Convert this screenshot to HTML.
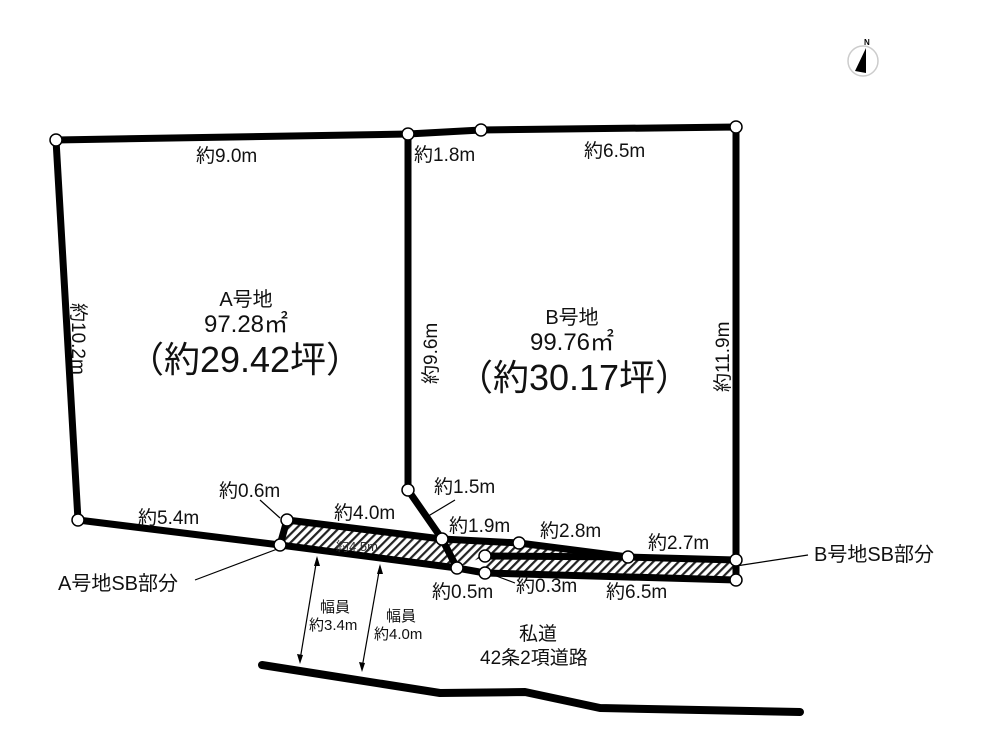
<!DOCTYPE html>
<html><head><meta charset="utf-8"><style>
html,body{margin:0;padding:0;background:#fff;}
svg{display:block;font-family:"Liberation Sans","Noto Sans CJK JP",sans-serif;}
</style></head><body>
<svg width="1000" height="750" viewBox="0 0 1000 750" xmlns="http://www.w3.org/2000/svg">
<defs>
<pattern id="h" width="6" height="6" patternUnits="userSpaceOnUse" patternTransform="rotate(45)">
<rect width="6" height="6" fill="#fff"/><rect width="2.2" height="6" fill="#222"/>
</pattern>
</defs>
<polygon points="287,520 442,539 457,568 280,545" fill="url(#h)"/>
<polygon points="442,539 519,543 628,557 736,560 736,580 485,573 485,556 457,568" fill="url(#h)"/>
<g stroke="#000" stroke-width="7" fill="none" stroke-linejoin="round" stroke-linecap="round">
<polyline points="56,140 408,134 481,130 736,127 736,560"/>
<polyline points="56,140 78,520 280,545"/>
<polyline points="408,134 408,490 442,539 457,568"/>
<polyline points="287,520 442,539 519,543 628,557 736,560"/>
<polyline points="287,520 280,545 457,568 485,573 736,580 736,560"/>
<polyline points="485,556 628,557"/>
<polyline points="262,665 440,693 525,692 600,708 800,712" stroke-width="8"/>
</g>
<g stroke="#000" stroke-width="1.2" fill="none">
<line x1="280" y1="518" x2="260" y2="500"/>
<line x1="425" y1="518" x2="455" y2="500"/>
<line x1="491" y1="574" x2="515" y2="583"/>
<line x1="280" y1="548" x2="195" y2="580"/>
<line x1="736" y1="566" x2="808" y2="555"/>
<line x1="300" y1="660" x2="317" y2="558"/>
<line x1="362" y1="668" x2="380" y2="566"/>
</g>
<g fill="#000">
<polygon points="317,556 314,566 320,566"/>
<polygon points="300,664 297,654 303,655"/>
<polygon points="380,564 377,574 383,574"/>
<polygon points="362,672 359,662 365,663"/>
</g>
<g fill="#fff" stroke="#000" stroke-width="1.5">
<circle cx="56" cy="140" r="6"/><circle cx="408" cy="134" r="6"/><circle cx="481" cy="130" r="6"/><circle cx="736" cy="127" r="6"/>
<circle cx="408" cy="490" r="6"/><circle cx="78" cy="520" r="6"/><circle cx="287" cy="520" r="6"/><circle cx="280" cy="545" r="6"/>
<circle cx="442" cy="539" r="6"/><circle cx="519" cy="543" r="6"/><circle cx="628" cy="557" r="6"/><circle cx="736" cy="560" r="6"/>
<circle cx="736" cy="580" r="6"/><circle cx="457" cy="568" r="6"/><circle cx="485" cy="573" r="6"/><circle cx="485" cy="556" r="6"/>
</g>
<circle cx="863" cy="61" r="15" fill="none" stroke="#ccc" stroke-width="1.5"/>
<polygon points="866,48 855,71 866,73" fill="#000"/>
<text x="864" y="45" font-size="8" font-weight="bold">N</text>
<g font-size="19" fill="#111">
<text x="196" y="162">約9.0m</text>
<text x="414" y="161">約1.8m</text>
<text x="584" y="157">約6.5m</text>
<text x="138" y="524">約5.4m</text>
<text x="219" y="497">約0.6m</text>
<text x="334" y="519">約4.0m</text>
<text x="434" y="493">約1.5m</text>
<text x="449" y="532">約1.9m</text>
<text x="540" y="537">約2.8m</text>
<text x="648" y="549">約2.7m</text>
<text x="432" y="598">約0.5m</text>
<text x="516" y="592">約0.3m</text>
<text x="606" y="598">約6.5m</text>
<text x="72" y="303" transform="rotate(90 72 303)">約10.2m</text>
<text x="437" y="384" transform="rotate(-90 437 384)">約9.6m</text>
<text x="729" y="392" transform="rotate(-90 729 392)">約11.9m</text>
<text x="519" y="640">私道</text>
<text x="480" y="664">42条2項道路</text>
</g>
<g font-size="20" fill="#111">
<text x="58" y="590">A号地SB部分</text>
<text x="814" y="561">B号地SB部分</text>
</g>
<g font-size="15" fill="#111">
<text x="320" y="612">幅員</text>
<text x="309" y="630">約3.4m</text>
<text x="386" y="621">幅員</text>
<text x="374" y="639">約4.0m</text>
<text x="336" y="551" font-size="13" fill="#333">約4.5m</text>
</g>
<g fill="#111" text-anchor="middle">
<text x="246" y="306" font-size="20">A号地</text>
<text x="246" y="332" font-size="24">97.28㎡</text>
<text x="245" y="372" font-size="36">（約29.42坪）</text>
<text x="572" y="324" font-size="20">B号地</text>
<text x="572" y="350" font-size="24">99.76㎡</text>
<text x="574" y="390" font-size="36">（約30.17坪）</text>
</g>
</svg>
</body></html>
